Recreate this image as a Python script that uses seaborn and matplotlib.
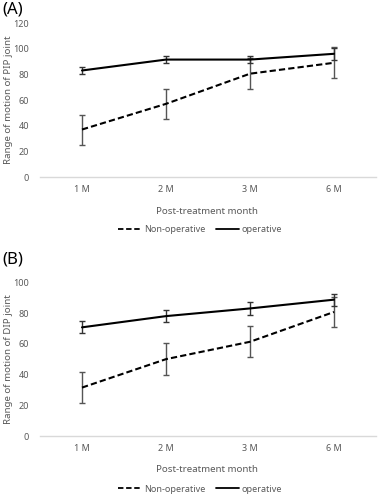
import matplotlib
matplotlib.use("Agg")
import matplotlib.pyplot as plt
import seaborn as sns
import pandas as pd
from matplotlib.lines import Line2D

sns.set_theme(style="white")
plt.rcParams['font.family'] = ['Noto Sans', 'DejaVu Sans']

months = ["1 M", "2 M", "3 M", "6 M"]
groups = ["Non-operative", "operative"]

pip_nonop = [37, 57, 80.5, 89]
pip_nonop_err = [11.7, 11.5, 12, 12]
pip_op = [83, 91.5, 91.5, 96]
pip_op_err = [2.5, 3, 3, 4.5]

dip_nonop = [31.5, 50, 61.3, 80.7]
dip_nonop_err = [10.3, 10.2, 10.2, 10]
dip_op = [70.7, 78, 83, 88.7]
dip_op_err = [4, 4, 4, 4]

panels = [
    ("(A)", "Range of motion of PIP joint", pip_nonop, pip_nonop_err, pip_op, pip_op_err, 120, [0, 20, 40, 60, 80, 100, 120]),
    ("(B)", "Range of motion of DIP joint", dip_nonop, dip_nonop_err, dip_op, dip_op_err, 100, [0, 20, 40, 60, 80, 100]),
]

W, H = 379, 495
fig = plt.figure(figsize=(W / 100, H / 100), dpi=100)

rects = [
    [40 / W, 1 - 177 / H, 336 / W, (177 - 23) / H],
    [40 / W, 1 - 436 / H, 336 / W, (436 - 282.3) / H],
]
label_y = [10, 259]
legend_y = [230, 489]
xlabel_y = [212, 469]

txt_col = "#595959"

for i, (tag, ylab, nonop, nonop_e, op, op_e, ymax, yt) in enumerate(panels):
    ax = fig.add_axes(rects[i])
    df = pd.DataFrame({
        "x": list(range(4)) * 2,
        "val": nonop + op,
        "grp": [groups[0]] * 4 + [groups[1]] * 4,
    })
    sns.lineplot(data=df, x="x", y="val", style="grp", style_order=groups,
                 dashes={groups[0]: (3, 1.5), groups[1]: ""}, color="black",
                 linewidth=1.5, legend=False, ax=ax)
    xs = list(range(4))
    ax.errorbar(xs, nonop, yerr=nonop_e, fmt="none", ecolor="#555555",
                elinewidth=1.0, capsize=2.2, capthick=1.0, zorder=1)
    ax.errorbar(xs, op, yerr=op_e, fmt="none", ecolor="#333333",
                elinewidth=1.0, capsize=2.2, capthick=1.0, zorder=1)
    ax.set_xlim(-0.5, 3.5)
    ax.set_ylim(0, ymax)
    ax.set_xticks(xs)
    ax.set_xticklabels(months)
    ax.set_yticks(yt)
    ax.tick_params(axis="both", length=0, labelsize=6.5, colors=txt_col, pad=6)
    ax.tick_params(axis="y", pad=8)
    for s in ["top", "right", "left"]:
        ax.spines[s].set_visible(False)
    ax.spines["bottom"].set_color("#d9d9d9")
    ax.spines["bottom"].set_linewidth(1.0)
    ax.set_xlabel("")
    ax.set_ylabel(ylab, fontsize=7, color=txt_col)
    ax.yaxis.set_label_coords((13 - 40) / 336, 0.5)
    fig.text(207 / W, 1 - xlabel_y[i] / H, "Post-treatment month", ha="center",
             va="center", fontsize=7, color=txt_col)
    fig.text(2 / W, 1 - label_y[i] / H, tag, ha="left", va="center",
             fontsize=12, color="black")
    handles = [
        Line2D([], [], color="black", lw=1.3, linestyle=(0, (3, 1.5))),
        Line2D([], [], color="black", lw=1.3),
    ]
    fig.legend(handles, groups, loc="center", bbox_to_anchor=(200 / W, 1 - legend_y[i] / H),
               ncol=2, frameon=False, fontsize=6.5, labelcolor=txt_col,
               handlelength=2.6, handletextpad=0.2, columnspacing=1.2)

fig.savefig("out.png", dpi=100)
